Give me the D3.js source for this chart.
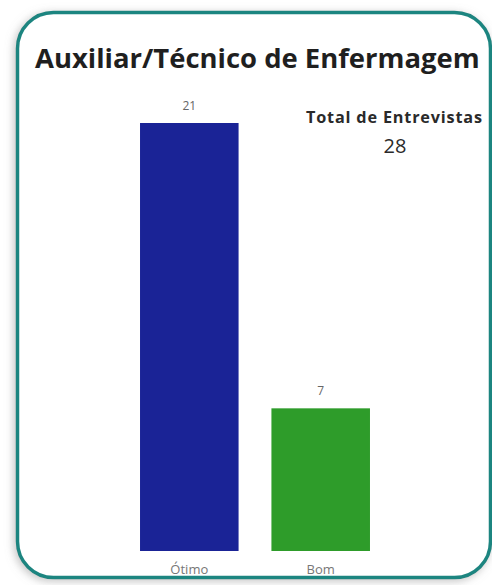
<!DOCTYPE html>
<html><head><meta charset="utf-8">
<script src="https://cdn.jsdelivr.net/npm/d3@7"></script>
<style>html,body{margin:0;padding:0;background:#fff;}svg{display:block;}</style>
</head><body>
<script>
const categories = ["Ótimo", "Bom"];
const values = [21, 7];
const barColors = ["#1a2396", "#2e9c2a"];
const titleText = "Auxiliar/Técnico de Enfermagem";
const cardLabel = "Total de Entrevistas";
const cardValue = 28;

const W = 492, H = 585;
const svg = d3.select("body").append("svg").attr("width", W).attr("height", H);
const defs = svg.append("defs");
const f = defs.append("filter").attr("id","sh").attr("x","-10%").attr("y","-10%").attr("width","120%").attr("height","120%");
f.append("feDropShadow").attr("dx",-2).attr("dy",2).attr("stdDeviation",4).attr("flood-color","#888").attr("flood-opacity",0.5);

svg.append("rect").attr("x",17.5).attr("y",12.5).attr("width",473).attr("height",565)
  .attr("rx",36).attr("ry",36).attr("fill","#fff").attr("stroke","#1e8580").attr("stroke-width",3.5)
  .attr("filter","url(#sh)");

const font = "'Open Sans', 'DejaVu Sans', sans-serif";
const title = svg.append("text").attr("x",35).attr("y",68).text(titleText)
  .attr("font-family",font).attr("font-weight",700).attr("font-size",24).attr("fill","#1f1f1f");
const tw = title.node().getComputedTextLength();
title.attr("font-size", 24*445/tw);

const x = d3.scaleBand().domain(categories).range([123.6, 386.4]).paddingInner(0.25).paddingOuter(0.125);
const y = d3.scaleLinear().domain([0, d3.max(values)]).range([551, 123]);

const g = svg.append("g");
g.selectAll("rect.bar").data(values).join("rect").attr("class","bar")
  .attr("x",(d,i)=>x(categories[i])).attr("width",x.bandwidth())
  .attr("y",d=>y(d)).attr("height",d=>y(0)-y(d)).attr("fill",(d,i)=>barColors[i]);

g.selectAll("text.val").data(values).join("text").attr("class","val")
  .attr("x",(d,i)=>x(categories[i])+x.bandwidth()/2).attr("y",d=>y(d)-13)
  .attr("text-anchor","middle").attr("font-family",font).attr("font-size",12).attr("fill","#666").text(d=>d);

const xAxis = svg.append("g").attr("transform",`translate(0,${y(0)})`).call(d3.axisBottom(x).tickSize(0).tickPadding(14));
xAxis.select(".domain").remove();
xAxis.selectAll("text").attr("font-family",font).attr("font-size",13).attr("fill","#777");

const cl = svg.append("text").attr("x",394).attr("y",123).attr("text-anchor","middle")
  .attr("font-family",font).attr("font-weight",700).attr("font-size",14.5).attr("fill","#2a2a2a").text(cardLabel);
const cw = cl.node().getComputedTextLength();
cl.attr("font-size", 14.5*Math.min(1.12, 176/cw));
if (cl.node().getComputedTextLength() < 172) cl.attr("textLength",176).attr("lengthAdjust","spacing");
svg.append("text").attr("x",395).attr("y",153).attr("text-anchor","middle")
  .attr("font-family",font).attr("font-size",20).attr("fill","#2a2a2a").text(cardValue);
</script>
</body></html>
